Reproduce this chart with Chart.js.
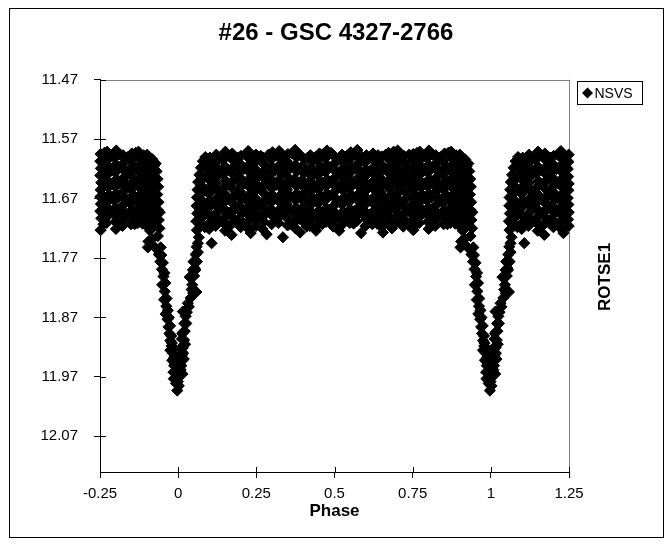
<!DOCTYPE html>
<html>
<head>
<meta charset="utf-8">
<script src="https://cdn.jsdelivr.net/npm/chart.js@4.4.1/dist/chart.umd.min.js"></script>
<style>
  html, body { margin: 0; padding: 0; background: #fff; }
</style>
</head>
<body>
<canvas id="lc" width="672" height="547"></canvas>
<script>
// === data (phase, magnitude) ===
const chartTitle = '#26 - GSC 4327-2766';
const seriesName = 'NSVS';
const xTicks = [-0.25, 0, 0.25, 0.5, 0.75, 1, 1.25];
const xTickLabels = ['-0.25', '0', '0.25', '0.5', '0.75', '1', '1.25'];
const yTicks = [11.47, 11.57, 11.67, 11.77, 11.87, 11.97, 12.07];
const yTickLabels = ['11.47', '11.57', '11.67', '11.77', '11.87', '11.97', '12.07'];

// egress out of primary minimum (phase 0 -> 0.1)
const eclipseOut = [
  [0.002,11.985],[0.004,11.970],[0.008,11.958],[0.014,11.965],[0.006,11.946],[0.011,11.934],
  [0.018,11.940],[0.015,11.921],[0.022,11.915],[0.012,11.906],[0.017,11.894],[0.020,11.880],
  [0.024,11.868],[0.015,11.860],[0.031,11.846],[0.040,11.837],[0.048,11.829],[0.058,11.827],
  [0.045,11.815],[0.037,11.802],[0.053,11.787],[0.049,11.776],[0.056,11.764],[0.059,11.751],
  [0.063,11.745],[0.107,11.745],
  [0.003,11.958],[0.007,11.922],[0.010,11.951],[0.013,11.897],[0.016,11.930],[0.019,11.908],
  [0.021,11.893],[0.026,11.880],[0.028,11.861],[0.034,11.852],[0.043,11.823],[0.051,11.800],
  [0.055,11.790],[0.060,11.776],[0.063,11.760],[0.066,11.735],[0.047,11.790],
  [0.060,11.723],[0.058,11.708],[0.061,11.695],[0.059,11.682],[0.060,11.668],[0.062,11.655],
  [0.064,11.642],[0.068,11.630],[0.073,11.618],[0.079,11.607],[0.087,11.600],[0.070,11.712],
  [0.071,11.689],[0.069,11.664],[0.074,11.648],[0.080,11.700],[0.078,11.674],[0.082,11.635],
  [0.085,11.718],[0.087,11.655],[0.089,11.686],[0.091,11.620]
];

// ingress into primary minimum (phase 0.9 -> 1)
const eclipseIn = [
  [0.928,11.611],[0.931,11.624],[0.934,11.637],[0.936,11.650],[0.933,11.663],[0.937,11.676],
  [0.935,11.689],[0.930,11.702],[0.938,11.706],[0.941,11.693],[0.940,11.720],[0.927,11.714],
  [0.912,11.712],[0.910,11.724],
  [0.905,11.742],[0.916,11.738],[0.903,11.752],[0.926,11.752],[0.935,11.733],[0.938,11.764],
  [0.944,11.752],[0.943,11.776],[0.948,11.789],[0.953,11.801],[0.949,11.815],[0.957,11.826],
  [0.955,11.840],[0.962,11.851],[0.960,11.864],[0.966,11.873],[0.969,11.886],[0.972,11.897],
  [0.975,11.909],[0.975,11.925],[0.979,11.918],[0.983,11.930],[0.981,11.942],[0.987,11.951],
  [0.985,11.962],[0.990,11.962],[0.986,11.973],[0.993,11.981],[0.997,11.993],
  [0.946,11.765],[0.951,11.778],[0.956,11.795],[0.959,11.812],[0.963,11.838],[0.967,11.858],
  [0.970,11.870],[0.974,11.884],[0.978,11.901],[0.980,11.913],[0.984,11.921],[0.988,11.937],
  [0.991,11.947],[0.994,11.958],[0.995,11.970],[0.999,11.978],[0.999,11.962]
];

// out-of-eclipse plateau
const plateau = [
  [0.102,11.601],[0.098,11.613],[0.101,11.626],[0.097,11.637],[0.103,11.650],[0.099,11.662],[0.102,11.673],[0.096,11.686],[0.100,11.698],[0.104,11.709],[0.099,11.721],
  [0.122,11.596],[0.126,11.607],[0.123,11.619],[0.127,11.632],[0.121,11.644],[0.125,11.655],[0.128,11.668],[0.122,11.680],[0.126,11.692],[0.124,11.704],[0.120,11.716],
  [0.151,11.591],[0.147,11.603],[0.150,11.616],[0.146,11.627],[0.152,11.640],[0.148,11.651],[0.151,11.663],[0.147,11.676],[0.149,11.688],[0.153,11.699],[0.148,11.711],[0.150,11.724],
  [0.173,11.594],[0.177,11.606],[0.174,11.618],[0.178,11.630],[0.172,11.642],[0.176,11.654],[0.179,11.666],[0.173,11.677],[0.177,11.689],[0.175,11.702],[0.171,11.713],[0.171,11.731],
  [0.201,11.598],[0.197,11.611],[0.200,11.622],[0.196,11.634],[0.202,11.647],[0.198,11.658],[0.201,11.670],[0.197,11.682],[0.203,11.694],[0.199,11.706],[0.200,11.718],
  [0.224,11.590],[0.228,11.603],[0.225,11.614],[0.229,11.626],[0.223,11.639],[0.227,11.650],[0.230,11.662],[0.224,11.675],[0.228,11.686],[0.226,11.698],[0.222,11.710],[0.227,11.722],
  [0.249,11.596],[0.248,11.608],[0.246,11.620],[0.247,11.633],[0.249,11.645],[0.248,11.656],[0.246,11.669],[0.248,11.680],[0.249,11.693],[0.247,11.705],[0.249,11.716],
  [0.272,11.601],[0.276,11.613],[0.273,11.625],[0.277,11.637],[0.271,11.649],[0.275,11.661],[0.278,11.673],[0.272,11.685],[0.276,11.697],[0.274,11.709],[0.270,11.721],
  [0.302,11.592],[0.298,11.604],[0.301,11.617],[0.297,11.628],[0.303,11.641],[0.299,11.652],[0.302,11.664],[0.296,11.677],[0.300,11.689],[0.304,11.700],[0.299,11.713],
  [0.323,11.590],[0.327,11.602],[0.324,11.614],[0.328,11.627],[0.322,11.639],[0.326,11.650],[0.329,11.663],[0.323,11.675],[0.327,11.687],[0.325,11.699],[0.321,11.711],[0.335,11.735],
  [0.351,11.595],[0.347,11.607],[0.350,11.619],[0.346,11.631],[0.352,11.643],[0.348,11.655],[0.351,11.667],[0.347,11.679],[0.353,11.690],[0.349,11.703],[0.350,11.715],
  [0.374,11.588],[0.378,11.600],[0.375,11.613],[0.379,11.624],[0.373,11.637],[0.377,11.648],[0.380,11.661],[0.374,11.672],[0.378,11.685],[0.376,11.697],[0.372,11.709],[0.377,11.721],
  [0.402,11.603],[0.398,11.615],[0.401,11.627],[0.397,11.639],[0.403,11.651],[0.399,11.663],[0.402,11.675],[0.396,11.687],[0.400,11.699],[0.404,11.711],[0.390,11.727],
  [0.423,11.597],[0.427,11.609],[0.424,11.621],[0.428,11.633],[0.422,11.645],[0.426,11.657],[0.429,11.669],[0.423,11.681],[0.427,11.693],[0.425,11.705],[0.421,11.716],
  [0.452,11.594],[0.448,11.606],[0.451,11.618],[0.447,11.630],[0.453,11.642],[0.449,11.654],[0.452,11.666],[0.448,11.678],[0.450,11.690],[0.454,11.702],[0.449,11.713],[0.441,11.724],
  [0.476,11.589],[0.472,11.601],[0.475,11.613],[0.471,11.625],[0.477,11.638],[0.473,11.649],[0.476,11.662],[0.470,11.673],[0.474,11.686],[0.478,11.697],[0.473,11.709],
  [0.498,11.598],[0.502,11.610],[0.499,11.622],[0.503,11.634],[0.497,11.646],[0.501,11.658],[0.504,11.670],[0.498,11.682],[0.502,11.694],[0.500,11.706],[0.496,11.717],
  [0.524,11.596],[0.528,11.608],[0.525,11.620],[0.529,11.632],[0.523,11.644],[0.527,11.656],[0.530,11.668],[0.524,11.680],[0.528,11.692],[0.526,11.704],[0.522,11.715],
  [0.552,11.592],[0.548,11.604],[0.551,11.616],[0.547,11.628],[0.553,11.640],[0.549,11.652],[0.552,11.664],[0.546,11.676],[0.550,11.688],[0.554,11.700],[0.549,11.711],
  [0.573,11.588],[0.577,11.600],[0.574,11.612],[0.578,11.624],[0.572,11.637],[0.576,11.648],[0.579,11.661],[0.573,11.672],[0.577,11.685],[0.575,11.697],[0.571,11.708],
  [0.602,11.597],[0.598,11.609],[0.601,11.621],[0.597,11.633],[0.603,11.645],[0.599,11.657],[0.602,11.669],[0.596,11.681],[0.600,11.693],[0.604,11.705],[0.599,11.716],
  [0.623,11.594],[0.627,11.606],[0.624,11.618],[0.628,11.630],[0.622,11.642],[0.626,11.654],[0.629,11.666],[0.623,11.678],[0.627,11.690],[0.625,11.702],[0.621,11.713],
  [0.651,11.599],[0.647,11.611],[0.650,11.623],[0.646,11.635],[0.652,11.647],[0.648,11.659],[0.651,11.671],[0.647,11.683],[0.653,11.695],[0.649,11.707],[0.650,11.718],
  [0.673,11.593],[0.677,11.605],[0.674,11.617],[0.678,11.629],[0.672,11.641],[0.676,11.653],[0.679,11.665],[0.673,11.677],[0.677,11.689],[0.675,11.701],[0.671,11.712],[0.684,11.720],
  [0.702,11.589],[0.698,11.601],[0.701,11.613],[0.697,11.625],[0.703,11.637],[0.699,11.649],[0.702,11.661],[0.696,11.673],[0.700,11.685],[0.704,11.697],[0.699,11.709],[0.720,11.706],
  [0.722,11.598],[0.726,11.610],[0.723,11.622],[0.727,11.634],[0.721,11.646],[0.725,11.658],[0.728,11.670],[0.722,11.682],[0.726,11.694],[0.724,11.706],[0.720,11.717],
  [0.752,11.595],[0.751,11.607],[0.753,11.619],[0.751,11.631],[0.754,11.643],[0.752,11.655],[0.751,11.667],[0.753,11.679],[0.751,11.691],[0.754,11.703],[0.752,11.723],[0.748,11.712],
  [0.773,11.591],[0.777,11.603],[0.774,11.615],[0.778,11.627],[0.772,11.639],[0.776,11.651],[0.779,11.663],[0.773,11.675],[0.777,11.687],[0.775,11.699],[0.771,11.711],
  [0.802,11.589],[0.798,11.601],[0.801,11.613],[0.797,11.625],[0.803,11.637],[0.799,11.649],[0.802,11.661],[0.796,11.673],[0.800,11.685],[0.804,11.697],[0.799,11.709],[0.801,11.721],
  [0.824,11.597],[0.828,11.609],[0.825,11.621],[0.829,11.633],[0.823,11.645],[0.827,11.657],[0.830,11.669],[0.824,11.681],[0.828,11.693],[0.826,11.705],[0.822,11.716],
  [0.852,11.594],[0.848,11.606],[0.851,11.618],[0.847,11.630],[0.853,11.642],[0.849,11.654],[0.852,11.666],[0.846,11.678],[0.850,11.690],[0.854,11.702],[0.849,11.713],
  [0.873,11.591],[0.877,11.603],[0.874,11.615],[0.878,11.627],[0.872,11.639],[0.876,11.651],[0.879,11.663],[0.873,11.675],[0.877,11.687],[0.875,11.699],[0.871,11.711],
  [0.901,11.596],[0.897,11.608],[0.900,11.620],[0.896,11.632],[0.902,11.644],[0.898,11.656],[0.901,11.668],[0.897,11.680],[0.903,11.692],[0.899,11.704],[0.900,11.716],
  [0.918,11.604],[0.922,11.616],[0.919,11.628],[0.923,11.640],[0.917,11.652],[0.921,11.664],[0.924,11.676],[0.918,11.688],[0.922,11.700]
];

// plateau points lying between the columns above, plus the lower stragglers
const plateauFill = [
  [0.114,11.607],[0.110,11.631],[0.113,11.653],[0.109,11.678],[0.115,11.702],
  [0.139,11.603],[0.135,11.626],[0.138,11.660],[0.134,11.684],[0.140,11.708],
  [0.164,11.598],[0.160,11.622],[0.163,11.646],[0.159,11.671],[0.165,11.694],[0.161,11.716],
  [0.189,11.601],[0.185,11.636],[0.188,11.659],[0.184,11.682],[0.190,11.706],
  [0.214,11.596],[0.210,11.620],[0.213,11.644],[0.209,11.667],[0.215,11.690],[0.211,11.713],
  [0.239,11.602],[0.235,11.627],[0.238,11.651],[0.234,11.674],[0.240,11.697],[0.232,11.728],
  [0.264,11.598],[0.260,11.631],[0.263,11.655],[0.259,11.679],[0.265,11.703],
  [0.289,11.596],[0.285,11.619],[0.288,11.642],[0.284,11.668],[0.290,11.692],[0.283,11.730],
  [0.314,11.597],[0.310,11.623],[0.313,11.647],[0.309,11.670],[0.315,11.694],[0.311,11.707],
  [0.339,11.601],[0.335,11.625],[0.338,11.649],[0.334,11.673],[0.340,11.696],
  [0.364,11.594],[0.360,11.618],[0.363,11.642],[0.359,11.666],[0.365,11.690],[0.361,11.713],
  [0.389,11.596],[0.385,11.620],[0.388,11.643],[0.384,11.667],[0.390,11.691],[0.386,11.704],
  [0.414,11.601],[0.410,11.621],[0.413,11.645],[0.409,11.669],[0.415,11.693],[0.411,11.717],
  [0.439,11.600],[0.435,11.624],[0.438,11.648],[0.434,11.672],[0.440,11.696],
  [0.464,11.595],[0.460,11.619],[0.463,11.643],[0.459,11.667],[0.465,11.691],[0.461,11.713],
  [0.489,11.593],[0.485,11.617],[0.488,11.641],[0.484,11.665],[0.490,11.689],[0.486,11.710],
  [0.514,11.603],[0.510,11.627],[0.513,11.651],[0.509,11.675],[0.515,11.699],[0.515,11.724],
  [0.539,11.598],[0.535,11.622],[0.538,11.646],[0.534,11.670],[0.540,11.694],
  [0.564,11.594],[0.560,11.618],[0.563,11.642],[0.559,11.666],[0.565,11.690],[0.561,11.712],
  [0.589,11.600],[0.585,11.624],[0.588,11.648],[0.584,11.672],[0.590,11.696],[0.585,11.728],
  [0.614,11.601],[0.610,11.625],[0.613,11.649],[0.609,11.673],[0.615,11.697],
  [0.639,11.597],[0.635,11.621],[0.638,11.645],[0.634,11.669],[0.640,11.693],[0.636,11.712],
  [0.664,11.596],[0.660,11.620],[0.663,11.644],[0.659,11.668],[0.665,11.692],[0.655,11.727],
  [0.689,11.591],[0.685,11.615],[0.688,11.639],[0.684,11.663],[0.690,11.687],[0.686,11.711],
  [0.714,11.602],[0.710,11.626],[0.713,11.650],[0.709,11.674],[0.715,11.698],
  [0.739,11.596],[0.735,11.620],[0.738,11.644],[0.734,11.668],[0.740,11.692],[0.736,11.714],
  [0.764,11.593],[0.760,11.617],[0.763,11.641],[0.759,11.665],[0.765,11.689],[0.761,11.713],
  [0.789,11.598],[0.785,11.622],[0.788,11.646],[0.784,11.670],[0.790,11.694],
  [0.814,11.596],[0.810,11.620],[0.813,11.644],[0.809,11.668],[0.815,11.692],[0.811,11.715],
  [0.839,11.600],[0.835,11.624],[0.838,11.648],[0.834,11.672],[0.840,11.696],
  [0.864,11.593],[0.860,11.617],[0.863,11.641],[0.859,11.665],[0.865,11.689],[0.861,11.713],
  [0.889,11.597],[0.885,11.621],[0.888,11.645],[0.884,11.669],[0.890,11.693],[0.886,11.712],
  [0.911,11.607],[0.908,11.631],[0.912,11.655],[0.909,11.679],[0.913,11.698]
];

// the plot repeats the folded curve a quarter phase on each side
const points = [];
[...eclipseOut, ...plateau, ...plateauFill, ...eclipseIn].forEach(([p, m]) => {
  points.push({ x: p, y: m });
  if (p >= 0.75) points.push({ x: p - 1, y: m });
  if (p < 0.25) points.push({ x: p + 1, y: m });
});

Chart.defaults.font.family = '"Liberation Sans", Arial, sans-serif';
Chart.defaults.color = '#000';

// frame, cross ticks, side title and boxed legend (Excel look)
const excelBits = {
  id: 'excelBits',
  beforeDraw(chart) {
    const { ctx, width, height, chartArea: a, scales } = chart;
    ctx.save();
    ctx.fillStyle = '#fff';
    ctx.fillRect(0, 0, width, height);
    ctx.strokeStyle = '#808080';
    ctx.lineWidth = 1;
    ctx.beginPath();
    ctx.moveTo(a.left, Math.round(a.top) + 0.5);
    ctx.lineTo(a.right + 1, Math.round(a.top) + 0.5);
    ctx.moveTo(Math.round(a.right) + 0.5, a.top);
    ctx.lineTo(Math.round(a.right) + 0.5, a.bottom);
    ctx.stroke();
    // inner half of the cross tick marks
    ctx.strokeStyle = '#000';
    ctx.beginPath();
    scales.y.ticks.forEach(t => {
      const py = Math.round(scales.y.getPixelForValue(t.value)) + 0.5;
      ctx.moveTo(a.left, py);
      ctx.lineTo(a.left + 6, py);
    });
    scales.x.ticks.forEach(t => {
      const px = Math.round(scales.x.getPixelForValue(t.value)) + 0.5;
      ctx.moveTo(px, a.bottom);
      ctx.lineTo(px, a.bottom - 5);
    });
    ctx.stroke();
    ctx.restore();
  },
  afterDraw(chart) {
    const { ctx, chartArea: a } = chart;
    ctx.save();
    ctx.strokeStyle = '#000';
    ctx.lineWidth = 1;
    ctx.strokeRect(9.5, 8.5, 654, 529);

    // right-hand axis title
    ctx.font = 'bold 17px "Liberation Sans", Arial, sans-serif';
    ctx.fillStyle = '#000';
    ctx.textAlign = 'center';
    ctx.textBaseline = 'middle';
    ctx.translate(605, (a.top + a.bottom) / 2 + 1);
    ctx.rotate(-Math.PI / 2);
    ctx.fillText('ROTSE1', 0, 0);
    ctx.restore();

    // legend box
    ctx.save();
    const lx = 577.5, ly = 81.5, lw = 65, lh = 23;
    ctx.strokeStyle = '#000';
    ctx.strokeRect(lx, ly, lw, lh);
    const cx = lx + 10, cy = ly + lh / 2;
    ctx.fillStyle = '#000';
    ctx.beginPath();
    ctx.moveTo(cx, cy - 5.5);
    ctx.lineTo(cx + 5.5, cy);
    ctx.lineTo(cx, cy + 5.5);
    ctx.lineTo(cx - 5.5, cy);
    ctx.closePath();
    ctx.fill();
    ctx.font = '14px "Liberation Sans", Arial, sans-serif';
    ctx.textAlign = 'left';
    ctx.textBaseline = 'middle';
    ctx.fillText(chart.data.datasets[0].label, cx + 7, cy + 1);
    ctx.restore();
  }
};

new Chart(document.getElementById('lc'), {
  type: 'scatter',
  data: {
    datasets: [{
      label: seriesName,
      data: points,
      pointStyle: 'rectRot',
      pointRadius: 5.6,
      pointBorderWidth: 1,
      backgroundColor: '#000',
      borderColor: '#000',
      showLine: false,
      clip: false
    }]
  },
  options: {
    responsive: false,
    animation: false,
    events: [],
    layout: { padding: 0 },
    plugins: {
      legend: { display: false },
      tooltip: { enabled: false },
      title: {
        display: true,
        text: chartTitle,
        color: '#000',
        font: { size: 24, weight: 'bold' },
        padding: { top: 19, bottom: 32 }
      }
    },
    scales: {
      x: {
        type: 'linear',
        min: -0.25,
        max: 1.25,
        afterBuildTicks: s => { s.ticks = xTicks.map(v => ({ value: v })); },
        afterFit: s => { s.height = 75; },
        ticks: {
          autoSkip: false,
          maxRotation: 0,
          padding: 7,
          font: { size: 15 },
          color: '#000',
          callback: (v, i) => xTickLabels[i]
        },
        grid: { drawOnChartArea: false, drawTicks: true, tickLength: 6, color: '#000' },
        border: { display: true, color: '#000', width: 1 },
        title: {
          display: true,
          text: 'Phase',
          color: '#000',
          font: { size: 17, weight: 'bold' },
          padding: { top: 0, bottom: 25 }
        }
      },
      y: {
        type: 'linear',
        reverse: true,
        min: 11.47,
        max: 12.13,
        afterBuildTicks: s => { s.ticks = yTicks.map(v => ({ value: v })); },
        afterFit: s => { s.width = 100; },
        ticks: {
          autoSkip: false,
          padding: 16,
          font: { size: 15 },
          color: '#000',
          callback: (v, i) => yTickLabels[i]
        },
        grid: { drawOnChartArea: false, drawTicks: true, tickLength: 6, color: '#000' },
        border: { display: true, color: '#000', width: 1 }
      },
      // empty right-hand box that leaves room for the side title and legend
      side: {
        type: 'linear',
        position: 'right',
        display: true,
        afterFit: s => { s.width = 103; },
        ticks: { display: false },
        grid: { display: false },
        border: { display: false }
      }
    }
  },
  plugins: [excelBits]
});
</script>
</body>
</html>
